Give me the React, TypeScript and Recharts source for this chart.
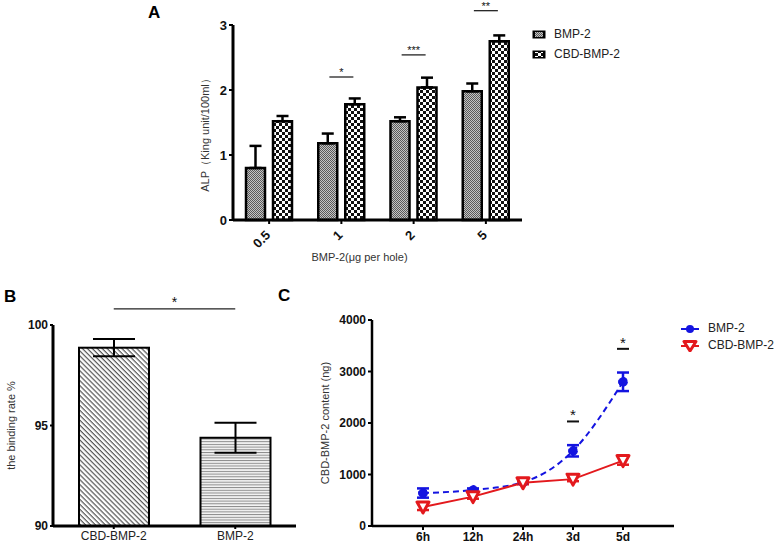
import { Bar, BarChart, ErrorBar, Legend, Line, LineChart, ReferenceDot, ReferenceLine, XAxis, YAxis } from 'recharts'

// panel A: ALP activity by dose
const doses = ['0.5', '1', '2', '5']
const alpBmp = [0.8, 1.18, 1.52, 1.98]
const alpBmpErr = [0.34, 0.15, 0.06, 0.12]
const alpCbd = [1.52, 1.78, 2.04, 2.75]
const alpCbdErr = [0.08, 0.09, 0.15, 0.09]
const alpSigDose = ['1', '2', '5']
const alpSigY = [2.2, 2.54, 3.22]
const alpSigMark = ['*', '***', '**']

// panel B: binding rate
const groups = ['CBD-BMP-2', 'BMP-2']
const bindRate = [98.87, 94.39]
const bindErr = [0.43, 0.75]

// panel C: release over time
const times = ['6h', '12h', '24h', '3d', '5d']
const relBmp = [640, 700, 850, 1460, 2800]
const relBmpErr = [90, 30, 30, 110, 180]
const relCbd = [370, 570, 840, 910, 1270]
const relCbdErr = [60, 40, 30, 40, 80]
const relSigTime = ['3d', '5d']
const relSigY = [2030, 3440]

const FONT = 'Arial, "Liberation Sans", sans-serif'
const BLUE = '#1414e0'
const RED = '#e3191d'

const alpData = doses.map((dose, i) => ({
  dose,
  bmp: alpBmp[i],
  bmpErr: [0, alpBmpErr[i]],
  cbd: alpCbd[i],
  cbdErr: [0, alpCbdErr[i]],
}))
const bindData = groups.map((name, i) => ({ name, rate: bindRate[i], err: bindErr[i] }))
const relData = times.map((time, i) => ({
  time,
  bmp: relBmp[i],
  bmpErr: relBmpErr[i],
  cbd: relCbd[i],
  cbdErr: relCbdErr[i],
}))

const yTitle = (text: string, dx: number, dy = 0, size = 11) => (props: any) => {
  const vb = props.viewBox
  const cx = vb.x + dx
  const cy = vb.y + vb.height / 2 + dy
  return (
    <text x={cx} y={cy} transform={`rotate(-90 ${cx} ${cy})`} textAnchor="middle" fontFamily={FONT} fontSize={size} fill="#333">
      {text}
    </text>
  )
}

const xTitle = (text: string, dx: number, dy: number) => (props: any) => {
  const vb = props.viewBox
  return (
    <text x={vb.x + vb.width / 2 + dx} y={vb.y + dy} textAnchor="middle" fontFamily={FONT} fontSize={11} fill="#333">
      {text}
    </text>
  )
}

const RotTick = (props: any) => {
  const { x, y, payload } = props
  return (
    <g transform={`translate(${x + 2},${y + 10}) rotate(-45)`}>
      <text textAnchor="end" fontFamily={FONT} fontSize={13} fontWeight="bold" fill="#111">
        {payload.value}
      </text>
    </g>
  )
}

const SigMark = (props: any) => {
  const { cx, cy, mark, half, size, sw } = props
  return (
    <g>
      <line x1={cx - half} x2={cx + half} y1={cy} y2={cy} stroke="#111" strokeWidth={sw} />
      <text x={cx} y={cy - 1} textAnchor="middle" fontFamily={FONT} fontSize={size} fill="#111">
        {mark}
      </text>
    </g>
  )
}

const TriDot = (props: any) => {
  const { cx, cy, index } = props
  return (
    <path
      key={index}
      d={`M${cx - 6},${cy - 5} L${cx + 6},${cy - 5} L${cx},${cy + 6} Z`}
      fill="#fff"
      stroke={RED}
      strokeWidth={3}
      strokeLinejoin="round"
    />
  )
}

const legendA = () => (
  <div style={{ fontFamily: FONT, fontSize: 12, color: '#222', lineHeight: '20px', whiteSpace: 'nowrap' }}>
    {[
      ['BMP-2', 'url(#fineGray)'],
      ['CBD-BMP-2', 'url(#checker)'],
    ].map(([name, fill]) => (
      <div key={name} style={{ display: 'flex', alignItems: 'center' }}>
        <svg width={14} height={9} style={{ marginRight: 8 }}>
          <rect x={0.5} y={0.5} width={13} height={8} fill="#000" />
          <rect x={3} y={2} width={8} height={5} fill={fill} />
        </svg>
        {name}
      </div>
    ))}
  </div>
)

const legendC = () => (
  <div style={{ fontFamily: FONT, fontSize: 12, color: '#222', lineHeight: '17px', whiteSpace: 'nowrap' }}>
    <div style={{ display: 'flex', alignItems: 'center' }}>
      <svg width={20} height={12} style={{ marginRight: 8 }}>
        <line x1={1} x2={19} y1={6} y2={6} stroke={BLUE} strokeWidth={2} />
        <circle cx={10} cy={6} r={4} fill={BLUE} />
      </svg>
      BMP-2
    </div>
    <div style={{ display: 'flex', alignItems: 'center' }}>
      <svg width={20} height={12} style={{ marginRight: 8 }}>
        <line x1={1} x2={19} y1={6} y2={6} stroke={RED} strokeWidth={2} />
        <path d="M4,1.5 L16,1.5 L10,11 Z" fill="#fff" stroke={RED} strokeWidth={3} strokeLinejoin="round" />
      </svg>
      CBD-BMP-2
    </div>
  </div>
)

const axisStroke = { stroke: '#000', strokeWidth: 3 }
const tickStroke = { stroke: '#000', strokeWidth: 2 }

export default function App() {
  return (
    <div style={{ position: 'fixed', left: 0, top: 0, width: 780, height: 553, background: '#fff', fontFamily: FONT }}>
      <div style={{ position: 'absolute', left: 148, top: 3, fontSize: 17, fontWeight: 'bold' }}>A</div>
      <div style={{ position: 'absolute', left: 4, top: 287, fontSize: 17, fontWeight: 'bold' }}>B</div>
      <div style={{ position: 'absolute', left: 278, top: 286, fontSize: 17, fontWeight: 'bold' }}>C</div>

      <div style={{ position: 'absolute', left: 0, top: 0 }}>
        <BarChart width={560} height={270} data={alpData} margin={{ top: 25, right: 38, left: 193, bottom: 10 }} barCategoryGap={13} barGap={8}>
          <defs>
            <pattern id="fineGray" patternUnits="userSpaceOnUse" width={2} height={2}>
              <rect width={2} height={2} fill="#c4c4c4" />
              <rect width={1} height={1} fill="#5a5a5a" />
              <rect x={1} y={1} width={1} height={1} fill="#5a5a5a" />
            </pattern>
            <pattern id="checker" patternUnits="userSpaceOnUse" width={6} height={6}>
              <rect width={6} height={6} fill="#fff" />
              <rect width={3} height={3} fill="#111" />
              <rect x={3} y={3} width={3} height={3} fill="#111" />
            </pattern>
          </defs>
          <XAxis dataKey="dose" height={40} axisLine={axisStroke} tickLine={tickStroke} tickSize={4} tick={<RotTick />} label={xTitle('BMP-2(μg per hole)', -18, 41)} />
          <YAxis
            width={40}
            domain={[0, 3]}
            ticks={[0, 1, 2, 3]}
            axisLine={axisStroke}
            tickLine={tickStroke}
            tickSize={4}
            tick={{ fill: '#111', fontSize: 13, fontWeight: 'bold', fontFamily: FONT }}
            label={yTitle('ALP（King unit/100ml）', 16, 10)}
          />
          <Legend content={legendA} layout="horizontal" verticalAlign="middle" align="center" wrapperStyle={{ position: 'absolute', left: 532, top: 24, width: 130 }} />
          <Bar dataKey="bmp" name="BMP-2" fill="url(#fineGray)" stroke="#000" strokeWidth={2.5} isAnimationActive={false}>
            <ErrorBar dataKey="bmpErr" width={6} stroke="#000" strokeWidth={2.5} direction="y" />
          </Bar>
          <Bar dataKey="cbd" name="CBD-BMP-2" fill="url(#checker)" stroke="#000" strokeWidth={2.5} isAnimationActive={false}>
            <ErrorBar dataKey="cbdErr" width={6} stroke="#000" strokeWidth={2.5} direction="y" />
          </Bar>
          {alpSigDose.map((d, i) => (
            <ReferenceDot
              key={d}
              x={d}
              y={alpSigY[i]}
              ifOverflow="visible"
              shape={(p: any) => <SigMark cx={p.cx} cy={p.cy} mark={alpSigMark[i]} half={12} size={11} sw={1.2} />}
            />
          ))}
        </BarChart>
      </div>

      <div style={{ position: 'absolute', left: 0, top: 290 }}>
        <BarChart width={300} height={263} data={bindData} margin={{ top: 35, right: 4, left: 23, bottom: 2 }}>
          <defs>
            <pattern id="diag" patternUnits="userSpaceOnUse" width={3.5} height={3.5} patternTransform="rotate(45)">
              <rect width={3.5} height={3.5} fill="#fff" />
              <rect width={3.5} height={1.2} fill="#555" />
            </pattern>
            <pattern id="horiz" patternUnits="userSpaceOnUse" width={4} height={2.7}>
              <rect width={4} height={2.7} fill="#f4f4f4" />
              <rect width={4} height={1} fill="#8a8a8a" />
            </pattern>
          </defs>
          <XAxis dataKey="name" height={25} axisLine={axisStroke} tickLine={tickStroke} tickSize={3} tick={{ fill: '#222', fontSize: 12, fontFamily: FONT }} />
          <YAxis
            width={30}
            domain={[90, 100]}
            ticks={[90, 95, 100]}
            axisLine={axisStroke}
            tickLine={tickStroke}
            tickSize={3}
            tick={{ fill: '#111', fontSize: 12, fontWeight: 'bold', fontFamily: FONT }}
            label={yTitle('the binding rate %', -8, 0, 11)}
          />
          <Bar dataKey="rate" barSize={70} stroke="#000" strokeWidth={2} isAnimationActive={false} shape={(p: any) => (
            <rect x={p.x} y={p.y} width={p.width} height={p.height} fill={p.index === 0 ? 'url(#diag)' : 'url(#horiz)'} stroke="#000" strokeWidth={2} />
          )}>
            <ErrorBar dataKey="err" width={21} stroke="#000" strokeWidth={2} direction="y" />
          </Bar>
          <ReferenceLine
            segment={[
              { x: groups[0], y: 100.8 },
              { x: groups[1], y: 100.8 },
            ]}
            ifOverflow="visible"
            stroke="#222"
            strokeWidth={1.2}
            label={{ value: '*', position: 'top', fill: '#111', fontSize: 14, fontFamily: FONT, offset: 2 }}
          />
        </BarChart>
      </div>

      <div style={{ position: 'absolute', left: 280, top: 290 }}>
        <LineChart width={500} height={263} data={relData} margin={{ top: 30, right: 106, left: 47, bottom: 2 }}>
          <XAxis
            dataKey="time"
            height={25}
            padding={{ left: 51, right: 51 }}
            axisLine={{ stroke: '#000', strokeWidth: 2.5 }}
            tickLine={tickStroke}
            tickSize={4}
            tick={{ fill: '#111', fontSize: 12, fontWeight: 'bold', fontFamily: FONT }}
          />
          <YAxis
            width={45}
            domain={[0, 4000]}
            ticks={[0, 1000, 2000, 3000, 4000]}
            axisLine={{ stroke: '#000', strokeWidth: 2.5 }}
            tickLine={tickStroke}
            tickSize={4}
            tick={{ fill: '#111', fontSize: 12, fontWeight: 'bold', fontFamily: FONT }}
            label={yTitle('CBD-BMP-2 content (ng)', 2, 0, 11)}
          />
          <Legend content={legendC} layout="horizontal" verticalAlign="middle" align="center" wrapperStyle={{ position: 'absolute', left: 400, top: 30, width: 100 }} />
          <Line
            dataKey="bmp"
            type="monotone"
            stroke={BLUE}
            strokeWidth={2}
            strokeDasharray="6 4"
            dot={{ r: 4.5, fill: BLUE, stroke: BLUE, strokeWidth: 1 }}
            activeDot={false}
            isAnimationActive={false}
          >
            <ErrorBar dataKey="bmpErr" width={6} stroke={BLUE} strokeWidth={2.5} direction="y" />
          </Line>
          <Line dataKey="cbd" type="linear" stroke={RED} strokeWidth={2} dot={TriDot} activeDot={false} isAnimationActive={false}>
            <ErrorBar dataKey="cbdErr" width={6} stroke={RED} strokeWidth={2.5} direction="y" />
          </Line>
          {relSigTime.map((t, i) => (
            <ReferenceDot
              key={t}
              x={t}
              y={relSigY[i]}
              ifOverflow="visible"
              shape={(p: any) => <SigMark cx={p.cx} cy={p.cy} mark="*" half={6} size={15} sw={2} />}
            />
          ))}
        </LineChart>
      </div>
    </div>
  )
}
